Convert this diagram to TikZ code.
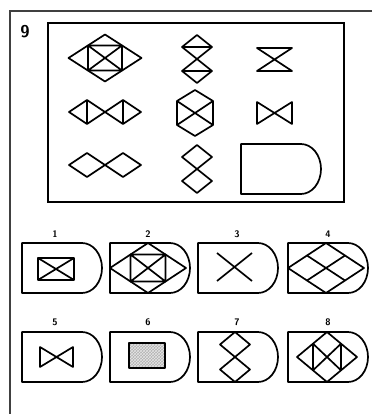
\documentclass[tikz,border=0pt]{standalone}
\usetikzlibrary{patterns}

% diamond: centre x, centre y, half width, half height
\newcommand{\dmd}[4]{\draw[shp] (#1-#3,#2) -- (#1,#2-#4) -- (#1+#3,#2) -- (#1,#2+#4) -- cycle;}
% answer frame: left x, top y
\newcommand{\optframe}[2]{\draw[shp] (#1+60,#2) -- (#1,#2) -- (#1,#2+50) -- (#1+60,#2+50)
  arc[start angle=90,end angle=-90,x radius=20,y radius=25] -- cycle;}

\begin{document}
\begin{tikzpicture}[x=1pt,y=-1pt,
  shp/.style={line width=1.7pt,line join=round},
  frm/.style={line width=2.1pt},
  lbl/.style={font=\sffamily\bfseries\fontsize{9.5}{9.5}\selectfont,inner sep=0pt}]
\useasboundingbox (0,0) rectangle (372,414);

% outer frame and number
\draw[frm,draw=black!75] (372,11) -- (10,11) -- (10,414);
\node[font=\sffamily\bfseries\fontsize{17}{17}\selectfont,inner sep=0pt] (num) at (25,32) {9};
\draw[frm] (48,23) rectangle (344,202);

% row 1
\dmd{105}{58}{36.5}{23.5}
\draw[shp] (88,45.5) rectangle (122,70.5) (88,45.5) -- (122,70.5) (122,45.5) -- (88,70.5);
\dmd{197}{47}{15}{12}
\dmd{197}{71}{15}{12}
\draw[shp] (182,47) -- (212,47) (182,71) -- (212,71);
\draw[shp] (257,48) -- (292,48) -- (257,71) -- (292,71) -- cycle;

% row 2
\dmd{87}{112}{18}{12}
\dmd{123}{112}{18}{12}
\draw[shp] (87,100) -- (87,124) (123,100) -- (123,124);
\draw[shp] (195,90) -- (213,101) -- (213,125) -- (195,136) -- (177,125) -- (177,101) -- cycle;
\draw[shp] (177,101) -- (213,125) (213,101) -- (177,125);
\draw[shp] (257,102) -- (257,124) -- (292,102) -- (292,124) -- cycle;

% row 3
\dmd{87}{165}{18}{12}
\dmd{123}{165}{18}{12}
\dmd{197}{157}{15}{12}
\dmd{197}{181}{15}{12}
\optframe{241}{144}

% answers
\optframe{22}{243}
\optframe{110}{243}
\optframe{198}{243}
\optframe{288}{243}
\optframe{22}{332}
\optframe{110}{332}
\optframe{198}{332}
\optframe{288}{332}
\node[lbl] (l1) at (55,234) {1};
\node[lbl] (l2) at (148,234) {2};
\node[lbl] (l3) at (237,234) {3};
\node[lbl] (l4) at (328,234) {4};
\node[lbl] (l5) at (55,322) {5};
\node[lbl] (l6) at (148,322) {6};
\node[lbl] (l7) at (237,322) {7};
\node[lbl] (l8) at (328,322) {8};

% 1
\draw[shp,line width=2.4pt] (38,258) rectangle (74,280);
\draw[shp] (38,258) -- (74,280) (74,258) -- (38,280);
% 2
\dmd{148}{268}{38}{25}
\draw[shp] (130.5,254.5) rectangle (165.5,281.5) (130.5,254.5) -- (165.5,281.5) (165.5,254.5) -- (130.5,281.5);
% 3
\draw[shp] (217,253) -- (252,281) (252,253) -- (217,281);
% 4
\dmd{326}{268}{38}{25}
\draw[shp] (307,255.5) -- (345,280.5) (345,255.5) -- (307,280.5);
% 5
\draw[shp] (40,347) -- (40,367) -- (73,347) -- (73,367) -- cycle;
% 6
\fill[gray!60] (129,343) rectangle (165,368);
\draw[shp,line width=2.4pt,pattern=crosshatch,pattern color=white!90!black] (129,343) rectangle (165,368);
% 7
\dmd{235}{344.5}{15}{12.5}
\dmd{235}{369.5}{15}{12.5}
% 8
\dmd{327}{357}{30}{25}
\draw[shp] (313,343.7) -- (313,370.3) (341,343.7) -- (341,370.3);
\draw[shp] (313,343.7) -- (341,370.3) (341,343.7) -- (313,370.3);
\end{tikzpicture}
\end{document}
